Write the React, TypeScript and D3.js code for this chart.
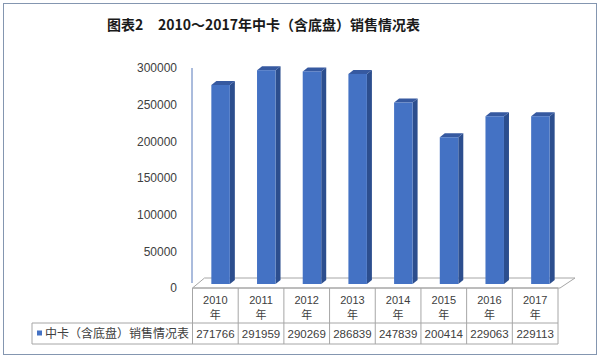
import React from "react";
import * as d3 from "d3";

const categories = ["2010", "2011", "2012", "2013", "2014", "2015", "2016", "2017"];
const values = [271766, 291959, 290269, 286839, 247839, 200414, 229063, 229113];
const yTicks = [0, 50000, 100000, 150000, 200000, 250000, 300000];
const seriesName = "中卡（含底盘）销售情况表";
const titleLead = "图表2";
const titleMain = "2010～2017年中卡（含底盘）销售情况表";

export default function App() {
  const W = 600, H = 360;
  const x = d3.scaleBand<string>().domain(categories).range([192.5, 558]).padding(0);
  const yBar = d3.scaleLinear().domain([0, 300000]).range([284, 64.3]);
  const yLab = d3.scaleLinear().domain([0, 300000]).range([288, 68]);
  const dx = 5, dy = -4, bw = 18.5;
  const front = "#4472C4", side = "#2C4E8E", top = "#3659A0";
  const grid = "#A6A6A6";
  const numFont = "'Liberation Sans', Arial, sans-serif";
  const cjkFont = "'Noto Sans CJK SC', sans-serif";
  const tableTop = 288, rowMid = 323, tableBottom = 344, tableLeft = 32;
  const x0 = x.range()[0], x1 = x.range()[1];

  return (
    <svg width={W} height={H} style={{ position: "absolute", left: 0, top: 0, background: "#fff" }}>
      <rect x={3.5} y={3.5} width={593} height={351} fill="#fff" stroke="#8496B0" strokeWidth={1} />
      <text x={107} y={30} fontFamily={cjkFont} fontWeight={700} fontSize={14} fill="#1a1a1a">{titleLead}</text>
      <text x={158} y={30} fontFamily={cjkFont} fontWeight={700} fontSize={14} fill="#1a1a1a">{titleMain}</text>

      {/* y tick labels */}
      {yTicks.map((t) => (
        <text key={t} x={177} y={yLab(t)} dy="0.35em" textAnchor="end" fontFamily={numFont} fontSize={12} fill="#404040">{t}</text>
      ))}
      {/* y axis */}
      <line x1={192} x2={192} y1={yLab(300000)} y2={yLab(0) - 5} stroke="#5679BA" strokeWidth={1} />

      {/* floor */}
      <polygon
        points={`${x0},${tableTop} ${x0 + 12},${tableTop - 10} ${x1 + 17},${tableTop - 10} ${x1 + 2},${tableTop}`}
        fill="#fff" stroke={grid} strokeWidth={1}
      />

      {/* bars */}
      {categories.map((c, i) => {
        const cx = (x(c) as number) + x.bandwidth() / 2;
        const l = cx - 4;
        const r = l + bw;
        const yt = yBar(values[i]);
        const yb = yBar(0);
        return (
          <g key={c}>
            <polygon points={`${r},${yt} ${r + dx},${yt + dy} ${r + dx},${yb + dy} ${r},${yb}`} fill={side} />
            <polygon points={`${l},${yt} ${l + dx},${yt + dy} ${r + dx},${yt + dy} ${r},${yt}`} fill={top} />
            <rect x={l} y={yt} width={bw} height={yb - yt} fill={front} />
          </g>
        );
      })}

      {/* table */}
      <line x1={x0} x2={x1} y1={tableTop} y2={tableTop} stroke={grid} />
      <line x1={tableLeft} x2={x1} y1={rowMid} y2={rowMid} stroke={grid} />
      <line x1={tableLeft} x2={x1} y1={tableBottom} y2={tableBottom} stroke={grid} />
      <line x1={tableLeft} x2={tableLeft} y1={rowMid} y2={tableBottom} stroke={grid} />
      {categories.map((c) => (
        <line key={"v" + c} x1={x(c) as number} x2={x(c) as number} y1={tableTop} y2={tableBottom} stroke={grid} />
      ))}
      <line x1={x1} x2={x1} y1={tableTop} y2={tableBottom} stroke={grid} />
      {categories.map((c, i) => {
        const cx = (x(c) as number) + x.bandwidth() / 2;
        return (
          <g key={"t" + c}>
            <text x={cx} y={300} dy="0.35em" textAnchor="middle" fontFamily={numFont} fontSize={11} fill="#404040">{c}</text>
            <text x={cx} y={315} dy="0.35em" textAnchor="middle" fontFamily={cjkFont} fontSize={11} fill="#404040">年</text>
            <text x={cx} y={334} dy="0.35em" textAnchor="middle" fontFamily={numFont} fontSize={11.5} fill="#404040">{values[i]}</text>
          </g>
        );
      })}
      <rect x={37} y={330.5} width={5} height={5} fill={front} />
      <text x={45} y={334} dy="0.35em" fontFamily={cjkFont} fontSize={12} fill="#404040">{seriesName}</text>
    </svg>
  );
}
